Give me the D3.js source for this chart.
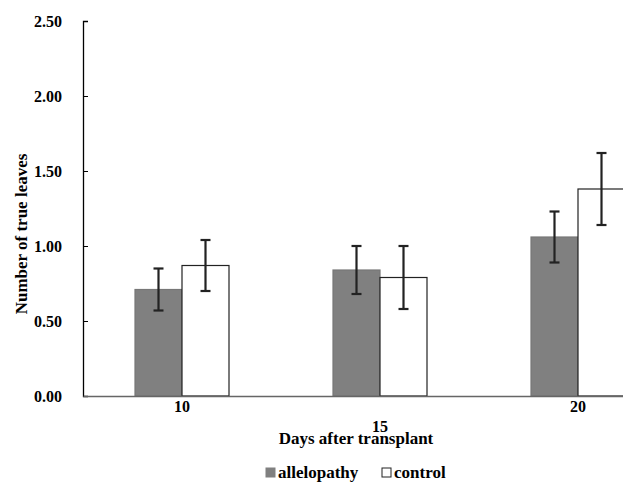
<!DOCTYPE html>
<html lang="en">
  <head>
    <meta charset="UTF-8" />
    <title>Number of true leaves</title>
    <style>
      body { margin: 0; background: #fff; }
      svg { display: block; }
      svg text { font-family: "Liberation Serif", "Times New Roman", serif; font-weight: bold; }
    </style>
  </head>
  <body>
    <svg width="623" height="485"></svg>

    <script src="https://d3js.org/d3.v7.min.js"></script>
    <script>
      // data
      const days = ["10", "15", "20"];
      const series = ["allelopathy", "control"];
      const allelopathy = [0.71, 0.84, 1.06];
      const allelopathyErr = [0.14, 0.16, 0.17];
      const control = [0.87, 0.79, 1.38];
      const controlErr = [0.17, 0.21, 0.24];
      const yTicks = [0, 0.5, 1, 1.5, 2, 2.5];

      const colors = { allelopathy: "#808080", control: "#ffffff" };

      const rows = [];
      days.forEach((d, i) => {
        rows.push({ day: d, key: "allelopathy", value: allelopathy[i], err: allelopathyErr[i] });
        rows.push({ day: d, key: "control", value: control[i], err: controlErr[i] });
      });

      const svg = d3.select("svg");
      const x0 = 83, y0 = 396, yTop = 21;

      // the plot runs past the right edge of the picture
      const x = d3.scaleBand().domain(days).range([x0, x0 + 594]).padding(0);
      const bw = x.bandwidth();
      const xs = d3.scaleBand().domain(series).range([bw / 2 - 47, bw / 2 + 47]);
      const y = d3.scaleLinear().domain([0, 2.5]).range([y0, yTop]);

      // Y axis, ticks pointing inward
      const yAxis = svg.append("g")
        .attr("transform", `translate(${x0},0)`)
        .call(d3.axisLeft(y).tickValues(yTicks).tickFormat(d3.format(".2f")).tickSize(-5).tickPadding(21));
      yAxis.attr("font-family", null).attr("font-size", null);
      yAxis.select(".domain").attr("stroke", "#000").attr("stroke-width", 1.3);
      yAxis.selectAll(".tick line").attr("stroke", "#000");
      yAxis.selectAll("text").attr("font-size", 16).attr("fill", "#000");

      // bars
      svg.append("g")
        .selectAll("rect")
        .data(rows)
        .join("rect")
        .attr("x", (d) => x(d.day) + xs(d.key))
        .attr("y", (d) => y(d.value))
        .attr("width", xs.bandwidth())
        .attr("height", (d) => y0 - y(d.value))
        .attr("fill", (d) => colors[d.key])
        .attr("stroke", (d) => (d.key === "control" ? "#222" : "#777"))
        .attr("stroke-width", 1.2);

      // X axis
      const xAxis = svg.append("g")
        .attr("transform", `translate(0,${y0})`)
        .call(d3.axisBottom(x).tickSize(0).tickPadding(5));
      xAxis.attr("font-family", null).attr("font-size", null);
      xAxis.select(".domain").attr("stroke", "#666").attr("stroke-width", 1.5);
      xAxis.selectAll("text")
        .attr("font-size", 16)
        .attr("fill", "#000")
        .attr("dy", (d, i) => (i % 2 ? "1.95em" : "0.71em"));

      // error bars
      const eb = svg.append("g").attr("stroke", "#222").attr("stroke-width", 2.2);
      rows.forEach((d) => {
        const cx = x(d.day) + xs(d.key) + xs.bandwidth() / 2;
        const t = y(d.value + d.err), b = y(d.value - d.err);
        eb.append("line").attr("x1", cx).attr("x2", cx).attr("y1", t).attr("y2", b);
        eb.append("line").attr("x1", cx - 5).attr("x2", cx + 5).attr("y1", t).attr("y2", t);
        eb.append("line").attr("x1", cx - 5).attr("x2", cx + 5).attr("y1", b).attr("y2", b);
      });

      // axis titles
      svg.append("text")
        .attr("x", 356)
        .attr("y", 444)
        .attr("text-anchor", "middle")
        .attr("font-size", 17)
        .text("Days after transplant");

      svg.append("text")
        .attr("transform", "translate(27,234) rotate(-90)")
        .attr("text-anchor", "middle")
        .attr("font-size", 17)
        .text("Number of true leaves");

      // legend
      const legend = svg.append("g").attr("transform", "translate(266,478)");
      const lx = [0, 116];
      series.forEach((s, i) => {
        legend.append("rect")
          .attr("x", lx[i])
          .attr("y", -10)
          .attr("width", 9)
          .attr("height", 9)
          .attr("fill", colors[s])
          .attr("stroke", s === "control" ? "#222" : "#808080");
        legend.append("text")
          .attr("x", lx[i] + 12)
          .attr("y", 0)
          .attr("font-size", 17)
          .text(s);
      });
    </script>
  </body>
</html>
